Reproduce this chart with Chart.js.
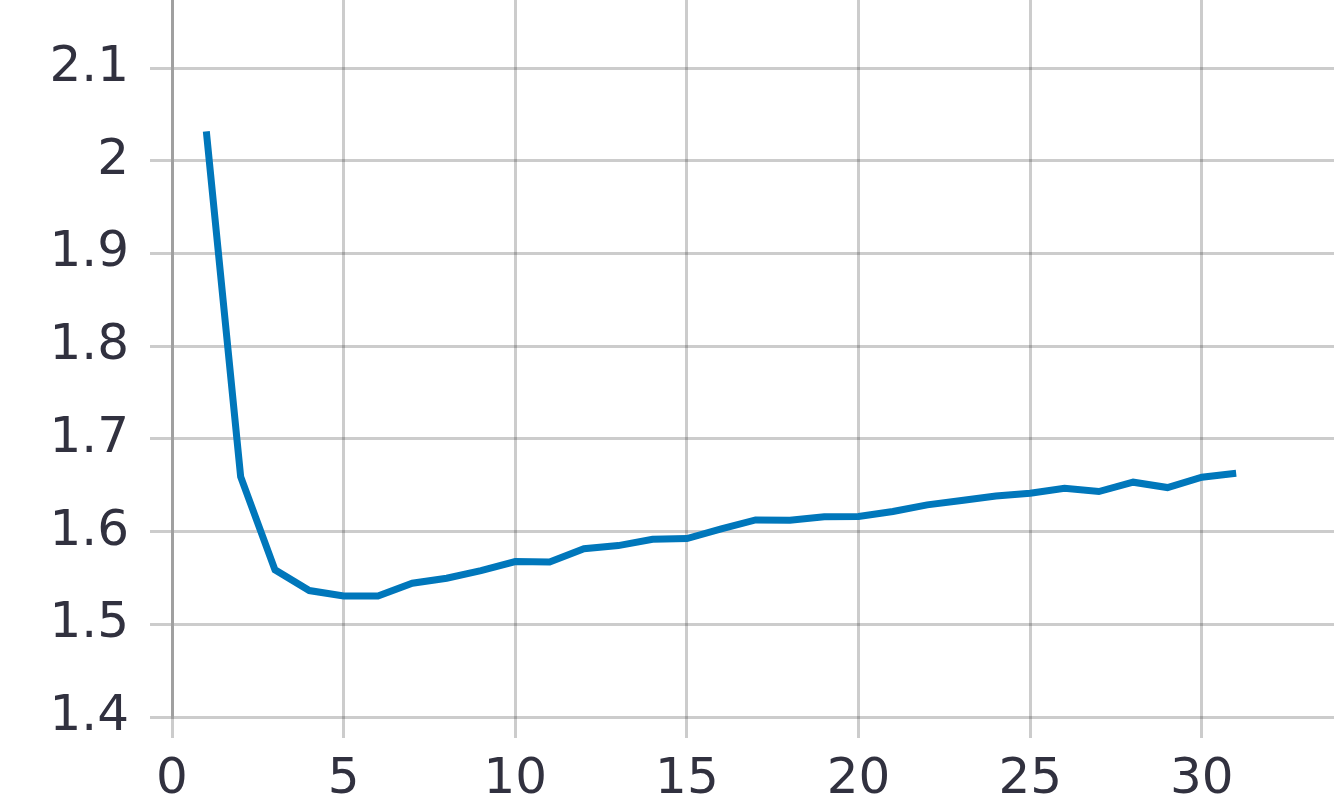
<!DOCTYPE html>
<html>
<head>
<meta charset="utf-8">
<script src="https://cdn.jsdelivr.net/npm/chart.js@4.4.0/dist/chart.umd.min.js"></script>
<style>
  html, body { margin: 0; padding: 0; background: #ffffff; }
  #wrap { width: 1334px; height: 809px; }
</style>
</head>
<body>
<div id="wrap"><canvas id="lossChart" width="1334" height="809"></canvas></div>
<script>
// values
const steps = [1, 2, 3, 4, 5, 6, 7, 8, 9, 10, 11, 12, 13, 14, 15, 16,
  17, 18, 19, 20, 21, 22, 23, 24, 25, 26, 27, 28, 29, 30, 31];
const values = [2.0316, 1.6593, 1.5587, 1.5364, 1.5306, 1.5306, 1.5443, 1.5497,
  1.5579, 1.5676, 1.5672, 1.5815, 1.5849, 1.5918, 1.5925, 1.6029, 1.6126,
  1.6123, 1.6159, 1.6162, 1.6216, 1.6288, 1.6335, 1.6383, 1.6413, 1.6468,
  1.6432, 1.6533, 1.6475, 1.6587, 1.6630];
const xTicks = [0, 5, 10, 15, 20, 25, 30];
const yTicks = [1.4, 1.5, 1.6, 1.7, 1.8, 1.9, 2, 2.1];

const textColor = '#31313f';
const gridColor = 'rgba(0, 0, 0, 0.2)';
const font = { family: 'DejaVu Sans', size: 50 };

const lossChart = document.getElementById('lossChart');

const lossChart_1 = new Chart(lossChart, {
  type: 'line',
  data: {
    datasets: [{
      data: steps.map((s, i) => ({ x: s, y: values[i] })),
      borderColor: '#0077bb',
      backgroundColor: '#0077bb',
      borderWidth: 7,
      borderCapStyle: 'butt',
      borderJoinStyle: 'miter',
      pointRadius: 0,
      tension: 0,
    }]
  },
  options: {
    responsive: false,
    animation: false,
    devicePixelRatio: 1,
    layout: { padding: 0 },
    plugins: {
      legend: { display: false },
      tooltip: { enabled: false },
    },
    scales: {
      x: {
        type: 'linear',
        min: 0,
        max: 33.85,
        afterBuildTicks: (axis) => {
          axis.ticks = xTicks.map(v => ({ value: v }));
        },
        afterFit: (axis) => {
          axis.height = 92;
          axis.paddingLeft = 0;
          axis.paddingRight = 0;
        },
        border: { display: false },
        grid: {
          color: gridColor,
          lineWidth: 3,
          tickLength: 21,
        },
        ticks: {
          color: textColor,
          font: font,
          padding: 12,
          maxRotation: 0,
          callback: (v) => String(v),
        }
      },
      y: {
        type: 'linear',
        min: 1.4,
        max: 2.1734,
        afterBuildTicks: (axis) => {
          axis.ticks = yTicks.map(v => ({ value: v }));
        },
        afterFit: (axis) => {
          axis.width = 172;
          axis.paddingTop = 0;
          axis.paddingBottom = 0;
        },
        border: {
          display: true,
          color: 'rgba(0, 0, 0, 0.22)',
          width: 3,
        },
        grid: {
          color: gridColor,
          lineWidth: 3,
          tickLength: 22,
        },
        ticks: {
          color: textColor,
          font: font,
          padding: 21,
          callback: (v) => String(+v.toFixed(1)),
        }
      }
    }
  },
});
</script>
</body>
</html>
